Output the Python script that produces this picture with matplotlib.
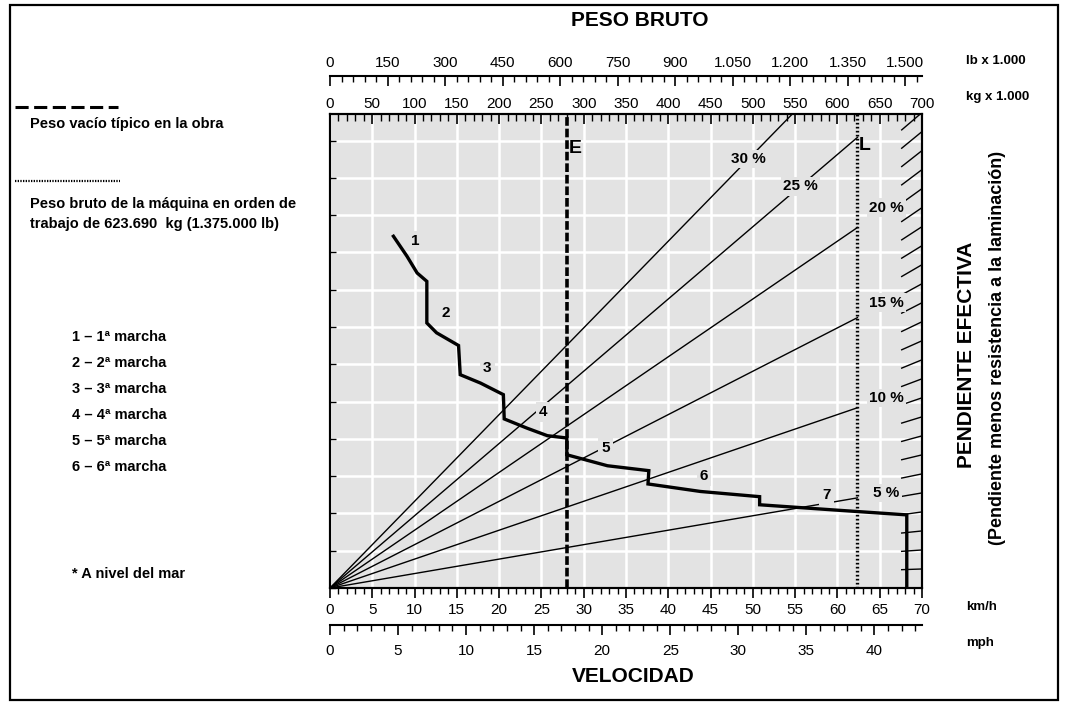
import numpy as np
import matplotlib.pyplot as plt
from matplotlib.lines import Line2D
from matplotlib.patches import Rectangle
from matplotlib.ticker import MultipleLocator, FixedLocator, FuncFormatter

plt.rcParams['font.family'] = ['Liberation Sans', 'DejaVu Sans']

# rimpull curve: speed (km/h) vs rimpull (kg x 1.000)
speed_kmh = [7.5, 9.1, 10.3, 11.45, 11.45, 12.6, 15.2, 15.4, 17.8, 20.5, 20.6, 23.3,
             25.7, 28.0, 28.0, 32.8, 37.7, 37.6, 43.8, 50.8, 50.8, 59.6, 68.2, 68.2]
rimpull = [121.7, 114.8, 109.0, 106.1, 91.7, 88.3, 83.9, 73.8, 70.9, 66.9, 58.5, 55.3,
           52.7, 51.9, 46.1, 42.3, 40.6, 36.0, 33.4, 31.6, 28.8, 27.0, 25.3, 0.0]

# gear labels on the curve
gear_names = ['1', '2', '3', '4', '5', '6', '7']
gear_kmh = [10.1, 13.7, 18.6, 25.2, 32.6, 44.2, 58.7]
gear_y = [120.2, 95.3, 76.2, 61.0, 48.5, 38.8, 32.2]

# effective grade lines (%)
grades = [5, 10, 15, 20, 25, 30]
inline_grades = [30, 25]
inline_label_w = [495, 556]
side_grades = [20, 15, 10, 5]
scale_grades = list(range(1, 26))
scale_weight = 658

empty_weight = 280.7   # E, kg x 1.000
gross_weight = 623.69  # L, kg x 1.000

lb_ticks = list(range(0, 1501, 150))
mph_ticks = list(range(0, 41, 5))

legend_gears = ['1 – 1ª marcha', '2 – 2ª marcha', '3 – 3ª marcha',
                '4 – 4ª marcha', '5 – 5ª marcha', '6 – 6ª marcha']

W, H = 1071, 702
bg = '#e3e3e3'
tick_fs = 11
fig = plt.figure(figsize=(W / 100, H / 100), dpi=100)


def px(x, y):
    return x / W, 1 - y / H


def dots(v, pos):
    return f'{int(round(v)):,}'.replace(',', '.')


# weight axes (back): grid, grade lines, E / L
axw = fig.add_axes([330 / W, 1 - 588 / H, 592 / W, 474 / H])
axw.set_facecolor(bg)
axw.set_xlim(0, 700)
axw.set_ylim(0, 164)
axw.xaxis.set_major_locator(MultipleLocator(50))
axw.xaxis.set_minor_locator(MultipleLocator(10))
axw.yaxis.set_major_locator(MultipleLocator(12.9))
axw.grid(True, color='white', lw=1.8, zorder=0.5)
axw.set_axisbelow(True)
for s in axw.spines.values():
    s.set_linewidth(1.5)

for g in grades:
    axw.plot([0, gross_weight], [0, g / 100 * gross_weight], color='black', lw=1.0, zorder=2)

# short grade marks along the right edge
for g in scale_grades:
    ye = g / 100 * scale_weight
    axw.plot([676, 700], [ye - g / 100 * 24, ye], color='black', lw=1.0, zorder=2)

for g, w in zip(inline_grades, inline_label_w):
    axw.text(w, g / 100 * w, f'{g} %', ha='center', va='center', fontsize=11,
             fontweight='bold', zorder=4,
             bbox=dict(boxstyle='square,pad=0.15', fc=bg, ec='none'))
for g in side_grades:
    axw.text(scale_weight, g / 100 * scale_weight, f'{g} %', ha='center', va='center',
             fontsize=11, fontweight='bold', zorder=4,
             bbox=dict(boxstyle='square,pad=0.15', fc=bg, ec='none'))

axw.axvline(empty_weight, color='black', lw=2.6, ls=(0, (2.4, 0.8)), zorder=3)
axw.axvline(gross_weight, color='black', lw=2.4, ls=(0, (0.5, 0.7)), zorder=3)
axw.text(empty_weight + 2, 152, 'E', ha='left', va='center', fontsize=14, fontweight='bold')
axw.text(gross_weight + 2, 153, 'L', ha='left', va='center', fontsize=14, fontweight='bold')

# speed axes (front): rimpull curve
ax = axw.twiny()
ax.set_zorder(axw.get_zorder() + 1)
ax.patch.set_visible(False)
ax.set_xlim(0, 70)
ax.xaxis.tick_bottom()
ax.xaxis.set_label_position('bottom')
ax.xaxis.set_major_locator(MultipleLocator(5))
ax.xaxis.set_minor_locator(MultipleLocator(1))
ax.tick_params(axis='x', which='major', direction='out', length=7, width=1.2,
               pad=4, labelsize=tick_fs)
ax.tick_params(axis='x', which='minor', direction='out', length=4, width=1)
for s in ax.spines.values():
    s.set_linewidth(1.5)

# kg axis on top (after twiny, which moves it)
axw.xaxis.tick_top()
axw.xaxis.set_major_formatter(FuncFormatter(dots))
axw.tick_params(axis='x', which='major', direction='in', length=7, width=1.2,
                pad=2, labelsize=tick_fs, bottom=False, labelbottom=False,
                top=True, labeltop=True)
axw.tick_params(axis='x', which='minor', direction='in', length=5, width=1,
                bottom=False, top=True)
axw.tick_params(axis='y', which='major', left=True, right=False, labelleft=False,
                direction='in', length=4, width=1)

lb = axw.secondary_xaxis(1.0802, functions=(lambda w: w * 2.20462, lambda l: l / 2.20462))
lb.xaxis.set_major_locator(FixedLocator(lb_ticks))
lb.xaxis.set_minor_locator(MultipleLocator(30))
lb.xaxis.set_major_formatter(FuncFormatter(dots))
lb.tick_params(which='major', direction='in', length=7, width=1.2, pad=4, labelsize=tick_fs)
lb.tick_params(which='minor', direction='in', length=4, width=1)
lb.spines['top'].set_linewidth(1.5)

ax.plot(speed_kmh, rimpull, color='black', lw=2.4, solid_joinstyle='miter', zorder=5)
for name, xk, yk in zip(gear_names, gear_kmh, gear_y):
    ax.text(xk, yk, name, ha='center', va='center', fontsize=11, fontweight='bold',
            zorder=6, bbox=dict(boxstyle='square,pad=0.2', fc=bg, ec='none'))

mph = ax.secondary_xaxis(-0.078, functions=(lambda k: k / 1.609344, lambda m: m * 1.609344))
mph.xaxis.set_major_locator(FixedLocator(mph_ticks))
mph.xaxis.set_minor_locator(MultipleLocator(1))
mph.tick_params(which='major', direction='out', length=7, width=1.2, pad=7, labelsize=tick_fs)
mph.tick_params(which='minor', direction='out', length=4, width=1)
mph.spines['bottom'].set_linewidth(1.5)

# titles and unit labels
fig.text(*px(640, 20), 'PESO BRUTO', ha='center', va='center', fontsize=15, fontweight='bold')
fig.text(*px(633, 677), 'VELOCIDAD', ha='center', va='center', fontsize=15, fontweight='bold')
fig.text(*px(966, 61), 'lb x 1.000', ha='left', va='center', fontsize=9.5, fontweight='bold')
fig.text(*px(966, 97), 'kg x 1.000', ha='left', va='center', fontsize=9.5, fontweight='bold')
fig.text(*px(966, 607), 'km/h', ha='left', va='center', fontsize=9.5, fontweight='bold')
fig.text(*px(966, 643), 'mph', ha='left', va='center', fontsize=9.5, fontweight='bold')
fig.text(*px(967, 355), 'PENDIENTE EFECTIVA', ha='center', va='center', rotation=90,
         fontsize=15, fontweight='bold')
fig.text(*px(997, 348), '(Pendiente menos resistencia a la laminación)', ha='center',
         va='center', rotation=90, fontsize=13, fontweight='bold')

# left notes
x0, y0 = px(15, 107)
x1, _ = px(118, 107)
fig.add_artist(Line2D([x0, x1], [y0, y0], color='black', lw=2.2, ls=(0, (4.3, 1.8))))
fig.text(*px(30, 124), 'Peso vacío típico en la obra', ha='left', va='center',
         fontsize=10.5, fontweight='bold')
x0, y0 = px(15, 181)
x1, _ = px(120, 181)
fig.add_artist(Line2D([x0, x1], [y0, y0], color='black', lw=1.6, ls=(0, (0.6, 0.6))))
fig.text(*px(30, 204), 'Peso bruto de la máquina en orden de', ha='left', va='center',
         fontsize=10.5, fontweight='bold')
fig.text(*px(30, 224), 'trabajo de 623.690  kg (1.375.000 lb)', ha='left', va='center',
         fontsize=10.5, fontweight='bold')
for i, t in enumerate(legend_gears):
    fig.text(*px(72, 337 + 26 * i), t, ha='left', va='center', fontsize=10.5, fontweight='bold')
fig.text(*px(72, 574), '* A nivel del mar', ha='left', va='center', fontsize=10.5,
         fontweight='bold')

# outer frame
fig.add_artist(Rectangle(px(10, 700), 1048 / W, 695 / H, fill=False, ec='black', lw=1.6))

fig.savefig('out.png', dpi=100)
